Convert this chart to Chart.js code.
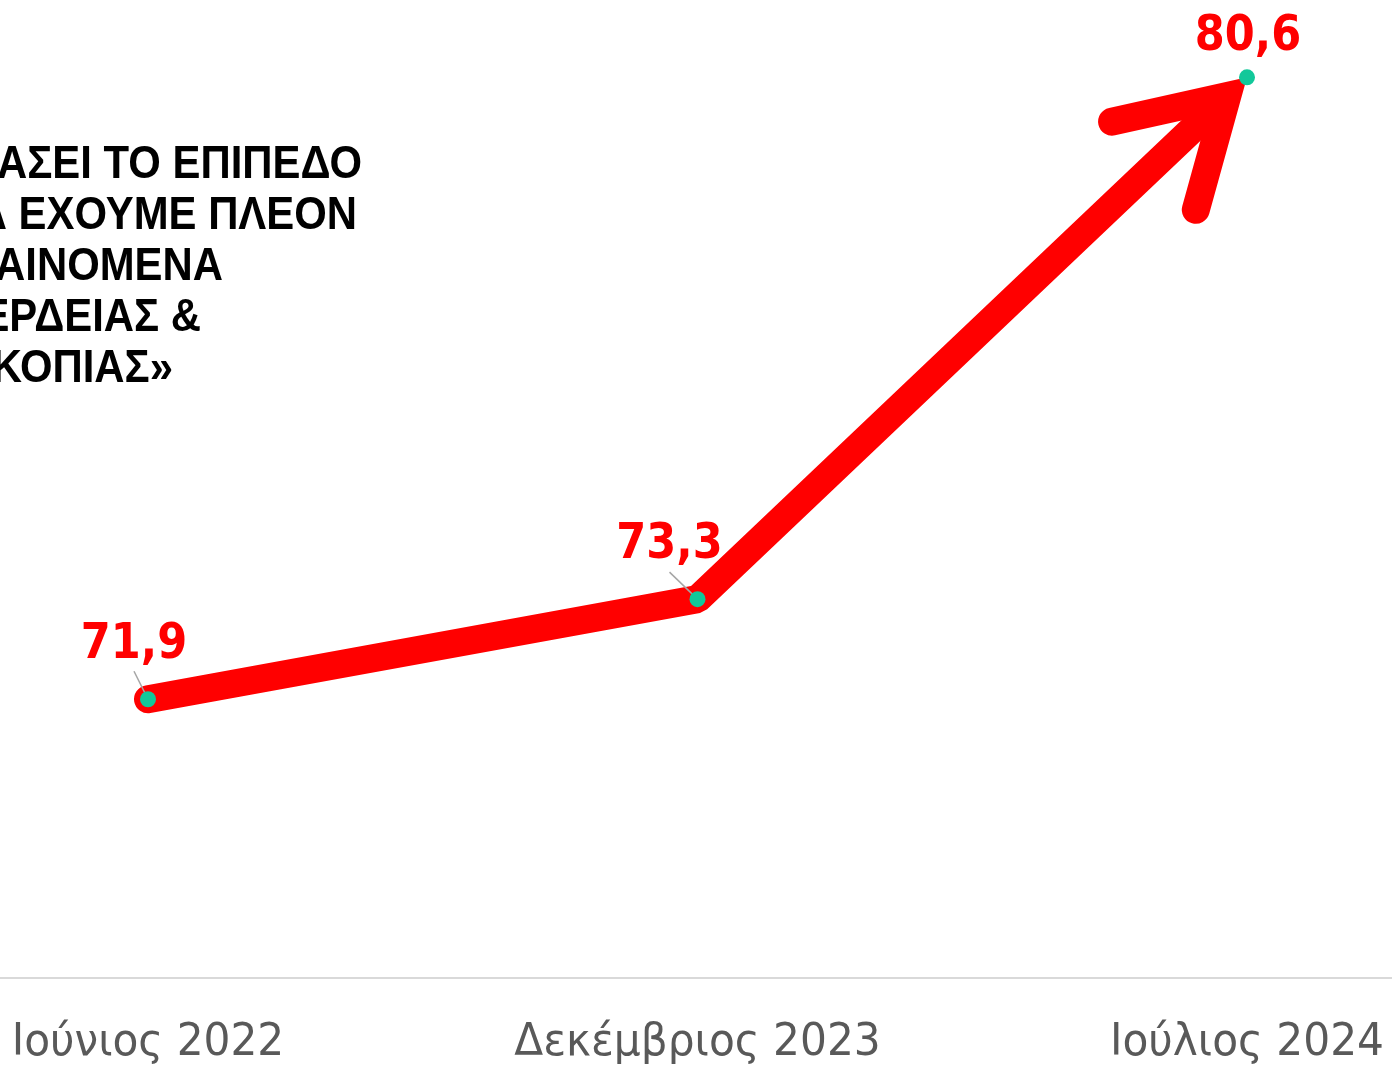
<!DOCTYPE html>
<html>
<head>
<meta charset="utf-8">
<script src="https://cdn.jsdelivr.net/npm/chart.js@4.4.1/dist/chart.umd.min.js"></script>
<style>
  html, body { margin: 0; padding: 0; background: #fff; }
  #wrap { width: 1392px; height: 1068px; overflow: hidden; }
</style>
</head>
<body>
<div id="wrap"><canvas id="myChart" width="1392" height="1068"></canvas></div>
<script>
// data
var labels = ['Ιούνιος 2022', 'Δεκέμβριος 2023', 'Ιούλιος 2024'];
var values = [71.9, 73.3, 80.6];
var quoteLines = [
  'ΞΕΠΕΡΑΣΕΙ ΤΟ ΕΠΙΠΕΔΟ',
  'ΤΩΡΑ ΕΧΟΥΜΕ ΠΛΕΟΝ',
  'ΦΑΙΝΟΜΕΝΑ',
  'ΑΙΣΧΡΟΚΕΡΔΕΙΑΣ &',
  'ΚΕΡΔΟΣΚΟΠΙΑΣ»'
];

// look
var RED = '#ff0000';
var GREEN = '#12c89a';
var LINE_W = 28;
var quoteRight = [362, 357, 223, 201, 173];
var quoteTop = 178, quoteStep = 51;
var labelOffsets = [{dx: -14, dy: -41, lx: -14, ly: -28}, {dx: -28, dy: -41, lx: -28, ly: -27}, {dx: 1, dy: -27, lx: 0, ly: 0}];

function fmt(v) {
  return String(v).replace('.', ',');
}

// text a bit narrower than the font, like the original
function squeezedText(ctx, text, x, y, sx) {
  ctx.save();
  ctx.translate(x, y);
  ctx.scale(sx, 1);
  ctx.fillText(text, 0, 0);
  ctx.restore();
}

var arrowPlugin = {
  id: 'arrowPlugin',
  geom: function (chart) {
    var pts = chart.getDatasetMeta(1).data;
    var a = pts[pts.length - 2], b = pts[pts.length - 1];
    var dx = b.x - a.x, dy = b.y - a.y, len = Math.sqrt(dx * dx + dy * dy);
    var u = {x: dx / len, y: dy / len};
    var half = 31 * Math.PI / 180;
    var back = (LINE_W / 2) / Math.sin(half);
    var v = {x: b.x - u.x * back, y: b.y - u.y * back};
    return {u: u, v: v, half: half};
  },
  beforeDatasetsDraw: function (chart) {
    // axis line across the whole width
    var ctx = chart.ctx, y = chart.scales.x.top;
    ctx.save();
    ctx.strokeStyle = '#d9d9d9';
    ctx.lineWidth = 2;
    ctx.beginPath();
    ctx.moveTo(0, y);
    ctx.lineTo(chart.width, y);
    ctx.stroke();
    ctx.restore();
  },
  beforeDatasetDraw: function (chart, args) {
    if (args.index !== 1) return;
    var g = this.geom(chart), ctx = chart.ctx, L = 5000;
    var n = {x: -g.u.y, y: g.u.x};
    ctx.save();
    ctx.beginPath();
    ctx.moveTo(g.v.x + n.x * L, g.v.y + n.y * L);
    ctx.lineTo(g.v.x - n.x * L, g.v.y - n.y * L);
    ctx.lineTo(g.v.x - n.x * L - g.u.x * L, g.v.y - n.y * L - g.u.y * L);
    ctx.lineTo(g.v.x + n.x * L - g.u.x * L, g.v.y + n.y * L - g.u.y * L);
    ctx.closePath();
    ctx.clip();
  },
  afterDatasetDraw: function (chart, args) {
    if (args.index !== 1) return;
    var ctx = chart.ctx;
    ctx.restore();
    var g = this.geom(chart);
    var base = Math.atan2(-g.u.y, -g.u.x), barb = 118;
    ctx.save();
    ctx.strokeStyle = RED;
    ctx.lineWidth = LINE_W;
    ctx.lineJoin = 'miter';
    ctx.miterLimit = 10;
    ctx.lineCap = 'round';
    ctx.beginPath();
    ctx.moveTo(g.v.x + Math.cos(base + g.half) * barb, g.v.y + Math.sin(base + g.half) * barb);
    ctx.lineTo(g.v.x, g.v.y);
    ctx.lineTo(g.v.x + Math.cos(base - g.half) * barb, g.v.y + Math.sin(base - g.half) * barb);
    ctx.stroke();

    // leader lines
    var pts = chart.getDatasetMeta(1).data;
    ctx.strokeStyle = '#a6a6a6';
    ctx.lineWidth = 1.5;
    ctx.lineCap = 'butt';
    pts.forEach(function (p, i) {
      var o = labelOffsets[i];
      if (!o.lx && !o.ly) return;
      ctx.beginPath();
      ctx.moveTo(p.x + o.lx, p.y + o.ly);
      ctx.lineTo(p.x, p.y);
      ctx.stroke();
    });
    ctx.restore();
  },
  afterDatasetsDraw: function (chart) {
    var ctx = chart.ctx;
    var pts = chart.getDatasetMeta(1).data;
    var xs = chart.scales.x;
    ctx.save();

    // value labels
    ctx.fillStyle = RED;
    ctx.font = 'bold 49px "DejaVu Sans", sans-serif';
    ctx.textAlign = 'center';
    ctx.textBaseline = 'alphabetic';
    pts.forEach(function (p, i) {
      var o = labelOffsets[i];
      squeezedText(ctx, fmt(values[i]), p.x + o.dx, p.y + o.dy, 0.88);
    });

    // category labels
    ctx.fillStyle = '#595959';
    ctx.font = '45px "DejaVu Sans", sans-serif';
    labels.forEach(function (t, i) {
      squeezedText(ctx, t, xs.getPixelForValue(i), xs.top + 77, 0.94);
    });

    // quote, cut by the left edge
    ctx.fillStyle = '#000000';
    ctx.font = 'bold 46px "Liberation Sans", Arial, sans-serif';
    ctx.textAlign = 'right';
    quoteLines.forEach(function (t, i) {
      squeezedText(ctx, t, quoteRight[i], quoteTop + i * quoteStep, 0.91);
    });
    ctx.restore();
  }
};

var ctx = document.getElementById('myChart').getContext('2d');
var myChart = new Chart(ctx, {
  type: 'line',
  data: {
    labels: labels,
    datasets: [{
      label: 'points',
      data: values,
      showLine: false,
      pointRadius: 8,
      pointBackgroundColor: GREEN,
      pointBorderWidth: 0,
      order: 0
    }, {
      label: 'line',
      data: values,
      borderColor: RED,
      borderWidth: LINE_W,
      borderCapStyle: 'round',
      borderJoinStyle: 'bevel',
      pointRadius: 0,
      tension: 0,
      clip: false,
      order: 1
    }]
  },
  options: {
    responsive: false,
    animation: false,
    events: [],
    layout: {padding: {left: 148, right: 145, top: 13, bottom: 90}},
    plugins: {legend: {display: false}, tooltip: {enabled: false}},
    scales: {
      x: {
        offset: false,
        grid: {display: false, drawTicks: false},
        border: {display: false},
        ticks: {display: false}
      },
      y: {display: false, min: 68, max: 81.5}
    }
  },
  plugins: [arrowPlugin]
});
</script>
</body>
</html>
